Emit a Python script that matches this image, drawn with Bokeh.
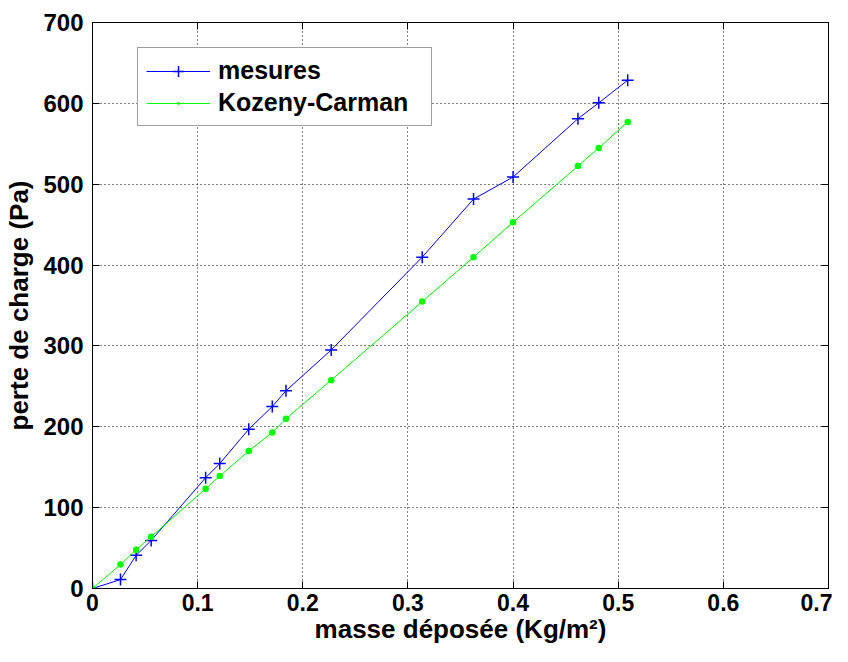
from bokeh.plotting import figure
from bokeh.models import LinearAxis, FixedTicker, NumeralTickFormatter, Range1d, Legend
from bokeh.embed import file_html
from bokeh.resources import INLINE

# data
masse = [0, 0.0266, 0.0415, 0.0558, 0.1076, 0.121, 0.1486, 0.171, 0.184,
         0.227, 0.3136, 0.3624, 0.400, 0.4617, 0.4815, 0.509]
mesures = [0, 11, 41, 59.5, 137, 154.5, 197, 225, 244.5,
           295, 409.8, 481.6, 508.9, 581, 600.6, 628.6]
kozeny = [0, 29.7, 48, 64, 123.5, 139, 170, 193, 210,
          257.7, 354.8, 409.8, 453, 522.5, 544.8, 577]
x_ticks = [0, 0.1, 0.2, 0.3, 0.4, 0.5, 0.6, 0.7]
y_ticks = [0, 100, 200, 300, 400, 500, 600, 700]

FONT = "Liberation Sans"

p = figure(width=832, height=646, output_backend="svg", toolbar_location=None,
           x_range=Range1d(0, 0.7), y_range=Range1d(0, 700),
           min_border_left=92, min_border_right=4, min_border_top=22, min_border_bottom=0)
p.background_fill_color = "white"
p.border_fill_color = "white"
p.outline_line_color = "black"
p.outline_line_width = 1

lm = p.line(masse, mesures, line_color="#0000FF", line_width=1)
sm = p.scatter(masse, mesures, marker="cross", size=12, line_color="#0000FF", line_width=1.5)
lk = p.line(masse, kozeny, line_color="#00FF00", line_width=1)
sk = p.scatter(masse, kozeny, marker="dot", size=26, fill_color="#00FF00",
               line_color="#00FF00", line_width=1.5)

for ax in (p.xaxis[0], p.yaxis[0]):
    ax.major_tick_in = 7
    ax.major_tick_out = 0
    ax.minor_tick_line_color = None
    ax.axis_line_color = "black"
    ax.major_tick_line_color = "black"
    ax.major_label_text_font = FONT
    ax.major_label_text_font_style = "bold"
    ax.major_label_text_color = "black"
    ax.axis_label_text_font = FONT
    ax.axis_label_text_font_style = "bold"
    ax.axis_label_text_color = "black"

p.yaxis[0].major_label_text_font_size = "24px"
p.xaxis[0].major_label_text_font_size = "23px"
p.yaxis[0].axis_label_text_font_size = "26px"
p.xaxis[0].axis_label_text_font_size = "26px"

p.xaxis[0].ticker = FixedTicker(ticks=x_ticks)
p.yaxis[0].ticker = FixedTicker(ticks=y_ticks)
p.xaxis[0].formatter = NumeralTickFormatter(format="0.[0]")
p.yaxis[0].formatter = NumeralTickFormatter(format="0")
p.xaxis[0].axis_label = "masse déposée (Kg/m²)"
p.yaxis[0].axis_label = "perte de charge (Pa)"
p.xaxis[0].major_label_standoff = 5
p.yaxis[0].major_label_standoff = 9
p.xaxis[0].axis_label_standoff = 0
p.yaxis[0].axis_label_standoff = 6

# box ticks on the top and right sides (no labels)
top = LinearAxis(ticker=FixedTicker(ticks=x_ticks), major_tick_in=7, major_tick_out=0,
                 minor_tick_line_color=None, major_label_text_font_size="1px",
                 major_label_overrides={t: "" for t in x_ticks},
                 major_label_standoff=0)
right = LinearAxis(ticker=FixedTicker(ticks=y_ticks), major_tick_in=7, major_tick_out=0,
                   minor_tick_line_color=None, major_label_text_font_size="1px",
                   major_label_overrides={t: "" for t in y_ticks},
                   major_label_standoff=0)
p.add_layout(top, "above")
p.add_layout(right, "right")

p.xgrid.ticker = FixedTicker(ticks=x_ticks)
p.ygrid.ticker = FixedTicker(ticks=y_ticks)
for g in (p.xgrid[0], p.ygrid[0]):
    g.grid_line_color = "black"
    g.grid_line_dash = "1 3"
    g.grid_line_width = 1

legend = Legend(items=[("mesures", [lm, sm]), ("Kozeny-Carman", [lk, sk])],
                location=(45, 462))
legend.label_text_font = FONT
legend.label_text_font_style = "bold"
legend.label_text_font_size = "25px"
legend.label_text_color = "black"
legend.glyph_width = 64
legend.glyph_height = 28
legend.label_height = 28
legend.label_width = 205
legend.label_standoff = 8
legend.spacing = 3
legend.padding = 8
legend.margin = 0
legend.border_line_color = "#404040"
legend.border_line_width = 1.5
legend.background_fill_color = "white"
legend.background_fill_alpha = 1
p.add_layout(legend, "center")

open("out.html", "w").write(file_html(p, INLINE))
